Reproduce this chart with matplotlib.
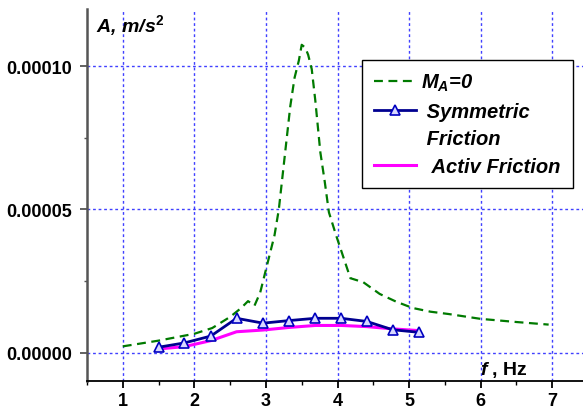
import matplotlib
matplotlib.use("Agg")
import matplotlib.pyplot as plt
from matplotlib.lines import Line2D
from matplotlib.ticker import MultipleLocator

plt.rcParams['font.family'] = ['Liberation Sans', 'DejaVu Sans']
plt.rcParams['font.weight'] = 'bold'
plt.rcParams['mathtext.fontset'] = 'custom'
plt.rcParams['mathtext.rm'] = 'Liberation Sans:bold'
plt.rcParams['mathtext.it'] = 'Liberation Sans:italic:bold'
plt.rcParams['mathtext.bf'] = 'Liberation Sans:bold'

# M_A = 0 (no friction)
f_free = [1.0, 1.25, 1.5, 1.75, 2.0, 2.25, 2.5, 2.65, 2.75, 2.84, 2.92, 2.98,
          3.05, 3.12, 3.18, 3.26, 3.34, 3.40, 3.46, 3.50, 3.55, 3.59, 3.64,
          3.69, 3.76, 3.82, 3.88, 3.98, 4.10, 4.18, 4.36, 4.59, 4.82, 5.05,
          5.30, 5.55, 6.0, 6.5, 6.95]
a_free = [2.2e-6, 3.2e-6, 4.2e-6, 5.4e-6, 6.6e-6, 8.6e-6, 1.25e-5, 1.55e-5,
          1.8e-5, 1.64e-5, 2.1e-5, 2.7e-5, 3.4e-5, 4.1e-5, 5.0e-5, 6.8e-5,
          8.6e-5, 9.6e-5, 1.02e-4, 1.075e-4, 1.065e-4, 1.04e-4, 9.9e-5, 8.8e-5,
          7.0e-5, 6.0e-5, 4.9e-5, 4.1e-5, 3.2e-5, 2.6e-5, 2.46e-5, 2.05e-5,
          1.78e-5, 1.56e-5, 1.43e-5, 1.35e-5, 1.18e-5, 1.07e-5, 9.8e-6]

# symmetric / active friction
f_fr = [1.50, 1.86, 2.23, 2.59, 2.96, 3.32, 3.69, 4.05, 4.41, 4.77, 5.14]
a_sym = [1.9e-6, 3.4e-6, 5.8e-6, 1.2e-5, 1.03e-5, 1.12e-5, 1.2e-5, 1.2e-5,
         1.09e-5, 8.0e-6, 7.1e-6]
a_act = [1.3e-6, 2.1e-6, 4.2e-6, 7.3e-6, 7.9e-6, 8.8e-6, 9.5e-6, 9.5e-6,
         9.1e-6, 8.3e-6, 7.7e-6]

fig = plt.figure(figsize=(5.83, 4.14), dpi=100)
ax = fig.add_axes([87/583, 1-382.3/414, 496/583, 372.3/414])

ax.plot(f_free, a_free, color='#007a00', lw=1.6, ls=(0, (4, 2.5)))
ax.plot(f_fr, a_act, color='#ff00ff', lw=2.2)
ax.plot(f_fr, a_sym, color='#000090', lw=2.0, marker='^', ms=7,
        mfc='#d8d8ff', mec='#0000c0', mew=1.2)

ax.set_xlim(0.5, 7.43)
ax.set_ylim(-1e-5, 1.2e-4)
ax.xaxis.set_major_locator(MultipleLocator(1))
ax.xaxis.set_minor_locator(MultipleLocator(0.5))
ax.yaxis.set_major_locator(MultipleLocator(5e-5))
ax.yaxis.set_minor_locator(MultipleLocator(2.5e-5))
ax.set_xticks([1, 2, 3, 4, 5, 6, 7])
ax.set_yticks([0, 5e-5, 1e-4])
ax.set_yticklabels(['0.00000', '0.00005', '0.00010'])

ax.grid(True, which='major', color='#4040ff', ls=(0, (2, 2)), lw=1.0)
ax.set_axisbelow(True)

for s in ['top', 'right']:
    ax.spines[s].set_visible(False)
ax.spines['left'].set_color('#555555')
ax.spines['left'].set_linewidth(1.8)
ax.spines['bottom'].set_linewidth(1.3)

ax.tick_params(axis='both', which='major', labelsize=13, direction='out')
ax.tick_params(axis='x', which='major', length=5, width=1.3, pad=3)
ax.tick_params(axis='x', which='minor', length=3, width=1.0)
ax.tick_params(axis='y', which='major', length=5, width=1.3, pad=5.5,
               color='#555555')
ax.tick_params(axis='y', which='minor', length=2.5, width=1.0,
               color='#555555')
for lab in ax.get_xticklabels() + ax.get_yticklabels():
    lab.set_fontweight('bold')

ax.text(0.018, 0.9417, 'A, m/s$^2$', transform=ax.transAxes, fontsize=14,
        fontweight='bold', fontstyle='italic', va='baseline')
ax.text(0.792, 0.0196, '$f$ , Hz', transform=ax.transAxes, fontsize=14,
        fontweight='bold', va='baseline')

handles = [
    Line2D([], [], color='#007a00', lw=1.6, ls=(0, (4, 2.5))),
    Line2D([], [], color='#000090', lw=2.0, marker='^', ms=7,
           mfc='#d8d8ff', mec='#0000c0', mew=1.2),
    Line2D([], [], color='none'),
    Line2D([], [], color='#ff00ff', lw=2.2),
]
labels = ['M$_A$=0', ' Symmetric', ' Friction', '  Activ Friction']
leg = ax.legend(handles, labels, loc='upper left',
                bbox_to_anchor=(0.554, 0.863), borderaxespad=0,
                prop={'family': 'Liberation Sans', 'weight': 'bold',
                      'style': 'italic', 'size': 14.5},
                handlelength=2.1, handletextpad=0.25, labelspacing=0.42,
                borderpad=0.6, fancybox=False, framealpha=1,
                edgecolor='black')
leg.get_frame().set_linewidth(1.0)

fig.savefig('out.png', dpi=100)
